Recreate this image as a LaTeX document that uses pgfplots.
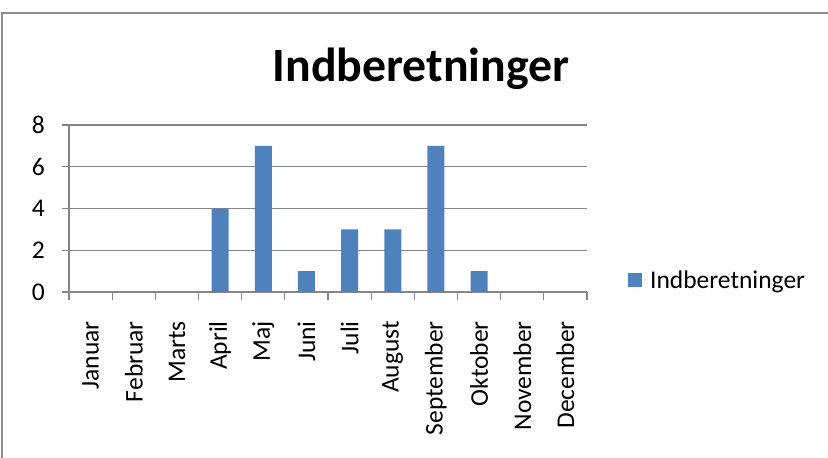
\documentclass[border=0pt]{standalone}
\usepackage{pgfplots}
\pgfplotsset{compat=1.18}
\usepackage{fontspec}
\setmainfont{Carlito}
\definecolor{barblue}{HTML}{4F81BD}
\definecolor{gridgray}{HTML}{868686}
\definecolor{framegray}{HTML}{8C8C8C}
\newcommand{\tickfont}{\fontsize{25.5bp}{28bp}\selectfont}
\begin{document}
\begin{tikzpicture}
\useasboundingbox (0bp,0bp) rectangle (828bp,458bp);
\draw[framegray, line width=1.5bp] (2bp,-5bp) -- (2bp,445bp) -- (835bp,445bp);
\node[font=\fontsize{47.8bp}{50bp}\selectfont\bfseries, anchor=base, inner sep=0pt] at (421bp,376bp) {Indberetninger};
\begin{axis}[
  at={(69bp,166bp)}, anchor=south west,
  scale only axis, width=518bp, height=167bp,
  xmin=-0.5, xmax=11.5, ymin=0, ymax=8,
  ytick={0,2,4,6,8},
  xtick={0,...,11},
  xticklabels={Januar,Februar,Marts,April,Maj,Juni,Juli,August,September,Oktober,November,December},
  minor xtick={-0.5,0.5,...,11.5},
  axis lines*=left,
  axis line style={gridgray, line width=1.3bp},
  ymajorgrids,
  major grid style={gridgray, line width=1.3bp},
  tick align=outside,
  major tick length=7bp,
  minor tick length=8bp,
  every tick/.style={gridgray, line width=1.3bp},
  major x tick style={draw=none},
  xtick pos=bottom, ytick pos=left,
  /pgf/number format/assume math mode=true,
  xticklabel style={yshift=-22bp, rotate=90, anchor=east, inner sep=0pt, font=\tickfont},
  yticklabel style={anchor=east, inner sep=0pt, font=\tickfont, xshift=-17bp},
  legend style={at={(1.079,0.072)}, anchor=west, draw=none, fill=none, inner sep=0pt,
    font=\tickfont, legend cell align=left},
  legend image code/.code={\fill[barblue] (0bp,-7bp) rectangle (14bp,7bp); \path (0bp,0bp) -- (20bp,0bp);},
]
\addplot[ybar, bar width=17bp, fill=barblue, draw=none] coordinates {
(0,0) (1,0) (2,0) (3,4) (4,7) (5,1) (6,3) (7,3) (8,7) (9,1) (10,0) (11,0)};
\addlegendentry{Indberetninger}
\end{axis}
\end{tikzpicture}
\end{document}
